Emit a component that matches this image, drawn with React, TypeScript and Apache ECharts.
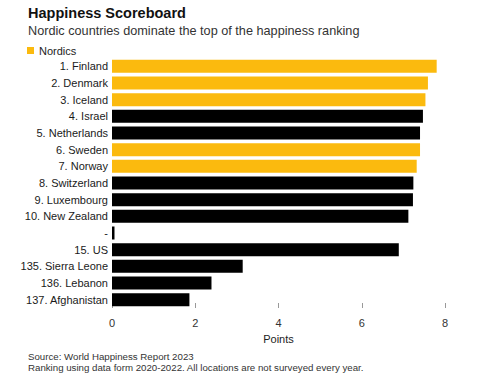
import React, { useEffect, useRef } from "react";
import * as echarts from "echarts";

const categories = [
  "1. Finland",
  "2. Denmark",
  "3. Iceland",
  "4. Israel",
  "5. Netherlands",
  "6. Sweden",
  "7. Norway",
  "8. Switzerland",
  "9. Luxembourg",
  "10. New Zealand",
  "-",
  "15. US",
  "135. Sierra Leone",
  "136. Lebanon",
  "137. Afghanistan",
];
const scores = [7.8, 7.59, 7.53, 7.47, 7.4, 7.4, 7.32, 7.24, 7.23, 7.12, 0.06, 6.89, 3.14, 2.39, 1.86];
const isNordic = [true, true, true, false, false, true, true, false, false, false, false, false, false, false, false];
const xTicks = [0, 2, 4, 6, 8];

const FONT = "'Liberation Sans', Arial, Helvetica, sans-serif";
const YELLOW = "#FBBA0E";

export default function App() {
  const ref = useRef<HTMLDivElement>(null);
  useEffect(() => {
    if (!ref.current) return;
    const chart = echarts.init(ref.current, undefined, { renderer: "svg" });
    const nordicData = scores.map((v, i) => (isNordic[i] ? v : null));
    const otherData = scores.map((v, i) => (isNordic[i] ? null : v));
    chart.setOption({
      animation: false,
      backgroundColor: "#ffffff",
      textStyle: { fontFamily: FONT },
      legend: {
        data: ["Nordics"],
        left: 27,
        top: 45,
        icon: "rect",
        itemWidth: 7,
        itemHeight: 7,
        itemGap: 6,
        padding: 0,
        textStyle: { fontFamily: FONT, fontSize: 11, color: "#222" },
        selectedMode: false,
      },
      graphic: [
        {
          type: "text",
          left: 28,
          top: 5,
          style: { text: "Happiness Scoreboard", font: `bold 14.5px ${FONT}`, fill: "#111" },
        },
        {
          type: "text",
          left: 28,
          top: 24,
          style: {
            text: "Nordic countries dominate the top of the happiness ranking",
            font: `12.7px ${FONT}`,
            fill: "#333",
          },
        },
        {
          type: "text",
          left: 28,
          top: 351,
          style: { text: "Source: World Happiness Report 2023", font: `9.7px ${FONT}`, fill: "#333" },
        },
        {
          type: "text",
          left: 28,
          top: 362,
          style: {
            text: "Ranking using data form 2020-2022. All locations are not surveyed every year.",
            font: `9.7px ${FONT}`,
            fill: "#333",
          },
        },
      ],
      grid: { left: 112, right: 55, top: 58, bottom: 66, containLabel: false },
      xAxis: {
        type: "value",
        min: xTicks[0],
        max: xTicks[xTicks.length - 1],
        interval: 2,
        name: "Points",
        nameLocation: "middle",
        nameGap: 25,
        nameTextStyle: { fontSize: 11, color: "#222", fontFamily: FONT },
        axisLine: { show: false },
        axisTick: { show: true, inside: true, length: 5, lineStyle: { color: "#999" } },
        axisLabel: { fontSize: 11, color: "#333", margin: 9 },
        splitLine: { show: false },
      },
      yAxis: {
        type: "category",
        data: categories,
        inverse: true,
        axisLine: { show: false },
        axisTick: { show: false },
        axisLabel: { fontSize: 11, color: "#1a1a1a", margin: 4 },
      },
      series: [
        {
          name: "Nordics",
          type: "bar",
          stack: "s",
          data: nordicData,
          barWidth: 13,
          itemStyle: { color: YELLOW },
        },
        {
          name: "Others",
          type: "bar",
          stack: "s",
          data: otherData,
          barWidth: 13,
          itemStyle: { color: "#000000" },
        },
      ],
    });
    return () => chart.dispose();
  }, []);
  return (
    <div
      ref={ref}
      style={{ position: "absolute", left: 0, top: 0, width: 500, height: 374 }}
    />
  );
}
